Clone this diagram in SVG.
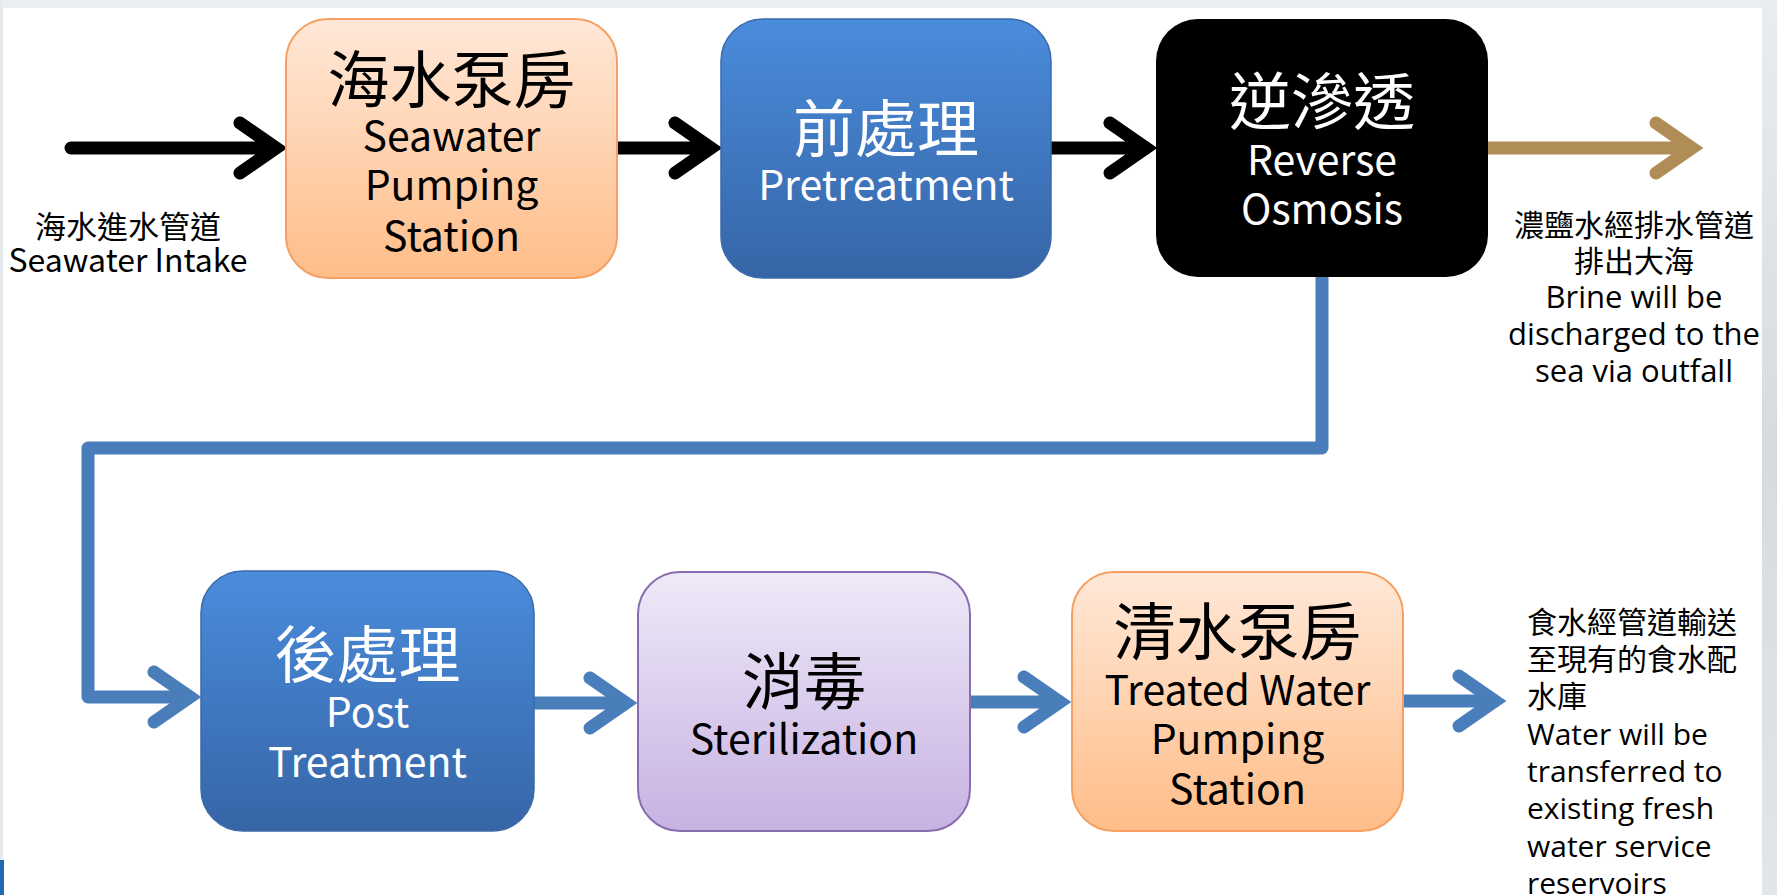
<svg xmlns="http://www.w3.org/2000/svg" width="1777" height="895" viewBox="0 0 1777 895">
  <defs>
    <linearGradient id="gOrange" x1="0" y1="0" x2="0" y2="1">
      <stop offset="0" stop-color="#FFE8D8"/>
      <stop offset="1" stop-color="#FFBD88"/>
    </linearGradient>
    <linearGradient id="gBlue" x1="0" y1="0" x2="0" y2="1">
      <stop offset="0" stop-color="#4A8CDC"/>
      <stop offset="1" stop-color="#3665A6"/>
    </linearGradient>
    <linearGradient id="gPurple" x1="0" y1="0" x2="0" y2="1">
      <stop offset="0" stop-color="#EFE9F8"/>
      <stop offset="1" stop-color="#C7B2E2"/>
    </linearGradient>
    <linearGradient id="gSide" x1="0" y1="0" x2="0" y2="1">
      <stop offset="0" stop-color="#E9EDF0"/>
      <stop offset="0.5" stop-color="#D6DBDE"/>
      <stop offset="1" stop-color="#E2E6E8"/>
    </linearGradient>
  </defs>
  <style>
    .cjk { font-family: "Noto Sans CJK TC", "Noto Sans", sans-serif; font-size: 62px; text-anchor: middle; }
    .lat { font-family: "Noto Sans CJK TC", "Noto Sans", sans-serif; font-size: 41px; text-anchor: middle; }
    .lbl { font-family: "Open Sans", "Noto Sans CJK TC", sans-serif; font-size: 30px; fill: #000; }
    .lblc { font-family: "Noto Sans CJK TC", sans-serif; font-size: 31px; fill: #000; text-anchor: middle; }
    .dark { fill: #000; }
    .light { fill: #fff; }
    .orange { fill: url(#gOrange); stroke: #F5A062; stroke-width: 2; }
    .blue { fill: url(#gBlue); stroke: #3A6AAA; stroke-width: 1.5; }
    .purple { fill: url(#gPurple); stroke: #8A6DB0; stroke-width: 2; }
    .black { fill: #000; }
    .conn { fill: none; stroke-width: 13; stroke-linecap: round; stroke-linejoin: miter; }
    .k { stroke: #000; }
    .b { stroke: #4A7EBB; }
    .g { stroke: #B08D57; }
  </style>

  <!-- background -->
  <rect x="0" y="0" width="1777" height="895" fill="#FFFFFF"/>
  <rect x="0" y="0" width="1777" height="8" fill="#E9EEF2"/>
  <rect x="0" y="0" width="3" height="895" fill="#E5EAEE"/>
  <rect x="1762" y="0" width="15" height="895" fill="url(#gSide)"/>
  <rect x="0" y="860" width="4" height="35" fill="#1E6BB0"/>

  <!-- connectors -->
  <g id="connectors">
    <path class="conn k" d="M71,148 H274 M240,123 L276,148 L240,173"/>
    <path class="conn k" d="M617,148 H709 M675,123 L711,148 L675,173"/>
    <path class="conn k" d="M1051,148 H1144 M1110,123 L1146,148 L1110,173"/>
    <path class="conn g" d="M1488,148 H1690 M1656,123 L1692,148 L1656,173"/>
    <path class="conn b" style="stroke-linecap:butt;stroke-linejoin:round" d="M1322,277 V448 H88 V697 H186"/>
    <path class="conn b" d="M154,672 L190,697 L154,722"/>
    <path class="conn b" d="M534,703 H624 M590,678 L626,703 L590,728"/>
    <path class="conn b" d="M970,702 H1058 M1024,677 L1060,702 L1024,727"/>
    <path class="conn b" d="M1403,701 H1493 M1459,676 L1495,701 L1459,726"/>
  </g>

  <g id="intake-label">
    <text class="lblc" x="128" y="238">海水進水管道</text>
    <text class="lblc" x="128" y="272" style="font-size:32px">Seawater Intake</text>
  </g>

  <g id="seawater-pumping">
    <rect class="orange" x="286" y="19" width="331" height="259" rx="42"/>
    <text class="cjk dark" x="451.5" y="103">海水泵房</text>
    <text class="lat dark" x="451.5" y="151">Seawater</text>
    <text class="lat dark" x="451.5" y="200">Pumping</text>
    <text class="lat dark" x="451.5" y="251">Station</text>
  </g>

  <g id="pretreatment">
    <rect class="blue" x="721" y="19" width="330" height="259" rx="42"/>
    <text class="cjk light" x="886" y="152">前處理</text>
    <text class="lat light" x="886" y="200">Pretreatment</text>
  </g>

  <g id="reverse-osmosis">
    <rect class="black" x="1156" y="19" width="332" height="258" rx="42"/>
    <text class="cjk light" x="1322" y="125">逆滲透</text>
    <text class="lat light" x="1322" y="175">Reverse</text>
    <text class="lat light" x="1322" y="224">Osmosis</text>
  </g>

  <g id="brine-label">
    <text class="lbl" x="1634" y="236" text-anchor="middle">濃鹽水經排水管道</text>
    <text class="lbl" x="1634" y="272" text-anchor="middle">排出大海</text>
    <text class="lbl" x="1634" y="308" text-anchor="middle" style="font-size:31px">Brine will be</text>
    <text class="lbl" x="1634" y="345" text-anchor="middle" style="font-size:31px">discharged to the</text>
    <text class="lbl" x="1634" y="382" text-anchor="middle" style="font-size:31px">sea via outfall</text>
  </g>

  <g id="post-treatment">
    <rect class="blue" x="201" y="571" width="333" height="260" rx="42"/>
    <text class="cjk light" x="367.5" y="678">後處理</text>
    <text class="lat light" x="367.5" y="727">Post</text>
    <text class="lat light" x="367.5" y="777">Treatment</text>
  </g>

  <g id="sterilization">
    <rect class="purple" x="638" y="572" width="332" height="259" rx="42"/>
    <text class="cjk dark" x="804" y="705">消毒</text>
    <text class="lat dark" x="804" y="754">Sterilization</text>
  </g>

  <g id="treated-water-pumping">
    <rect class="orange" x="1072" y="572" width="331" height="259" rx="42"/>
    <text class="cjk dark" x="1237.5" y="655">清水泵房</text>
    <text class="lat dark" x="1237.5" y="705">Treated Water</text>
    <text class="lat dark" x="1237.5" y="754">Pumping</text>
    <text class="lat dark" x="1237.5" y="804">Station</text>
  </g>

  <g id="water-label">
    <text class="lbl" x="1527" y="633">食水經管道輸送</text>
    <text class="lbl" x="1527" y="670">至現有的食水配</text>
    <text class="lbl" x="1527" y="707">水庫</text>
    <text class="lbl" x="1527" y="745">Water will be</text>
    <text class="lbl" x="1527" y="782">transferred to</text>
    <text class="lbl" x="1527" y="819">existing fresh</text>
    <text class="lbl" x="1527" y="857">water service</text>
    <text class="lbl" x="1527" y="894">reservoirs</text>
  </g>
</svg>
